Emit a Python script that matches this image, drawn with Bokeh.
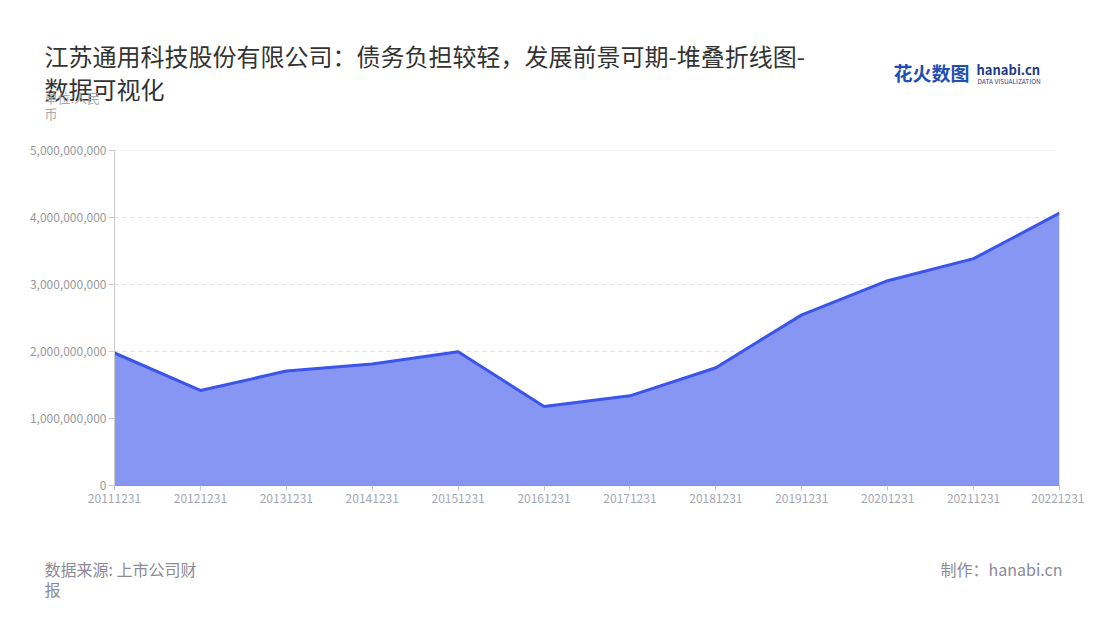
from bokeh.plotting import figure
from bokeh.layouts import column, row
from bokeh.models import Label, FixedTicker, NumeralTickFormatter, Range1d
from bokeh.embed import file_html
from bokeh.resources import INLINE

# ---- data ----
categories = ["20111231", "20121231", "20131231", "20141231", "20151231", "20161231",
              "20171231", "20181231", "20191231", "20201231", "20211231", "20221231"]
values = [1.98e9, 1.42e9, 1.71e9, 1.815e9, 2.0e9, 1.18e9,
          1.34e9, 1.76e9, 2.55e9, 3.06e9, 3.39e9, 4.07e9]
y_ticks = [0, 1e9, 2e9, 3e9, 4e9, 5e9]

title_lines = ["江苏通用科技股份有限公司：债务负担较轻，发展前景可期-堆叠折线图-", "数据可视化"]
unit_lines = ["单位:人民", "币"]
source_lines = ["数据来源: 上市公司财", "报"]
credit = "制作：hanabi.cn"

FONT = "Noto Sans CJK SC"
W = 1084
HEAD_H = 140          # header strip: page y 0..140
MAIN_H = 390          # chart strip: page y 140..530
FOOT_H = 74           # footer strip: page y 530..604
FL, FT, FR, FB = 114, 150, 1059, 485  # frame edges in page px

xs = list(range(len(categories)))


def text_strip(h):
    f = figure(width=W, height=h, output_backend="svg", toolbar_location=None,
               x_range=Range1d(0, W), y_range=Range1d(0, h),
               x_axis_location=None, y_axis_location=None,
               min_border_left=0, min_border_right=0, min_border_top=0, min_border_bottom=0)
    f.outline_line_color = None
    f.xgrid.visible = False
    f.ygrid.visible = False
    f.border_fill_color = "white"
    f.background_fill_color = "white"
    return f


def add_label(f, top, h, text, ref_x, ref_y, size, color, align="left", style="normal"):
    f.add_layout(Label(x=ref_x, y=h - (ref_y - top), x_units="screen", y_units="screen",
                       text=text, text_font=FONT, text_font_size=size, text_color=color,
                       text_align=align, text_baseline="middle", text_font_style=style))


# ---- header ----
head = text_strip(HEAD_H)
add_label(head, 0, HEAD_H, title_lines[0], 44, 55, "24px", "#333333")
add_label(head, 0, HEAD_H, title_lines[1], 44, 88, "24px", "#333333")
add_label(head, 0, HEAD_H, unit_lines[0], 44, 97, "13px", "#aaaaaa")
add_label(head, 0, HEAD_H, unit_lines[1], 44, 113, "13px", "#aaaaaa")
add_label(head, 0, HEAD_H, "花火数图", 893, 72, "19px", "#1f4fb5", style="bold")
add_label(head, 0, HEAD_H, "hanabi.cn", 976, 69, "13px", "#1e3a8a", style="bold")
add_label(head, 0, HEAD_H, "DATA VISUALIZATION", 977, 80, "6.5px", "#1e3a8a")

# ---- main chart ----
p = figure(width=W, height=MAIN_H, output_backend="svg", toolbar_location=None,
           x_range=Range1d(0, len(categories) - 1), y_range=Range1d(0, 5.006e9),
           min_border_left=FL, min_border_right=W - FR, min_border_top=FT - HEAD_H,
           min_border_bottom=HEAD_H + MAIN_H - FB)
p.outline_line_color = None
p.background_fill_color = "white"
p.border_fill_color = "white"

p.varea(x=xs, y1=[0] * len(xs), y2=values, fill_color="#8796f2", fill_alpha=1.0)
p.line(x=xs, y=values, line_color="#3b55ec", line_width=3)

p.xaxis.ticker = FixedTicker(ticks=xs)
p.xaxis.major_label_overrides = {i: c for i, c in enumerate(categories)}
p.xaxis.axis_line_color = "#7f8ff0"
p.xaxis.major_tick_line_color = "#c8c8c8"
p.xaxis.major_tick_in = 0
p.xaxis.major_tick_out = 5
p.xaxis.minor_tick_line_color = None
p.xaxis.major_label_text_font = FONT
p.xaxis.major_label_text_font_size = "12px"
p.xaxis.major_label_text_color = "#a3a7b5"
p.xaxis.major_label_standoff = 3

p.yaxis.ticker = FixedTicker(ticks=y_ticks)
p.yaxis.formatter = NumeralTickFormatter(format="0,0")
p.yaxis.axis_line_color = "#cccccc"
p.yaxis.major_tick_line_color = "#cccccc"
p.yaxis.major_tick_in = 0
p.yaxis.major_tick_out = 6
p.yaxis.minor_tick_line_color = None
p.yaxis.major_label_text_font = FONT
p.yaxis.major_label_text_font_size = "12px"
p.yaxis.major_label_text_color = "#999999"
p.yaxis.major_label_standoff = 2

p.xgrid.grid_line_color = None
p.ygrid.grid_line_color = "#e0e0e0"
p.ygrid.grid_line_dash = "4 4"
p.ygrid.grid_line_width = 1

# ---- footer ----
FOOT_TOP = HEAD_H + MAIN_H
foot = text_strip(FOOT_H)
add_label(foot, FOOT_TOP, FOOT_H, source_lines[0], 44, 568, "16px", "#8a8a99")
add_label(foot, FOOT_TOP, FOOT_H, source_lines[1], 44, 588, "16px", "#8a8a99")
add_label(foot, FOOT_TOP, FOOT_H, credit, 1062, 568, "16px", "#8a8a99", align="right")

layout = column(row(head), row(p), row(foot), spacing=0)
open("out.html", "w").write(file_html(layout, INLINE))
